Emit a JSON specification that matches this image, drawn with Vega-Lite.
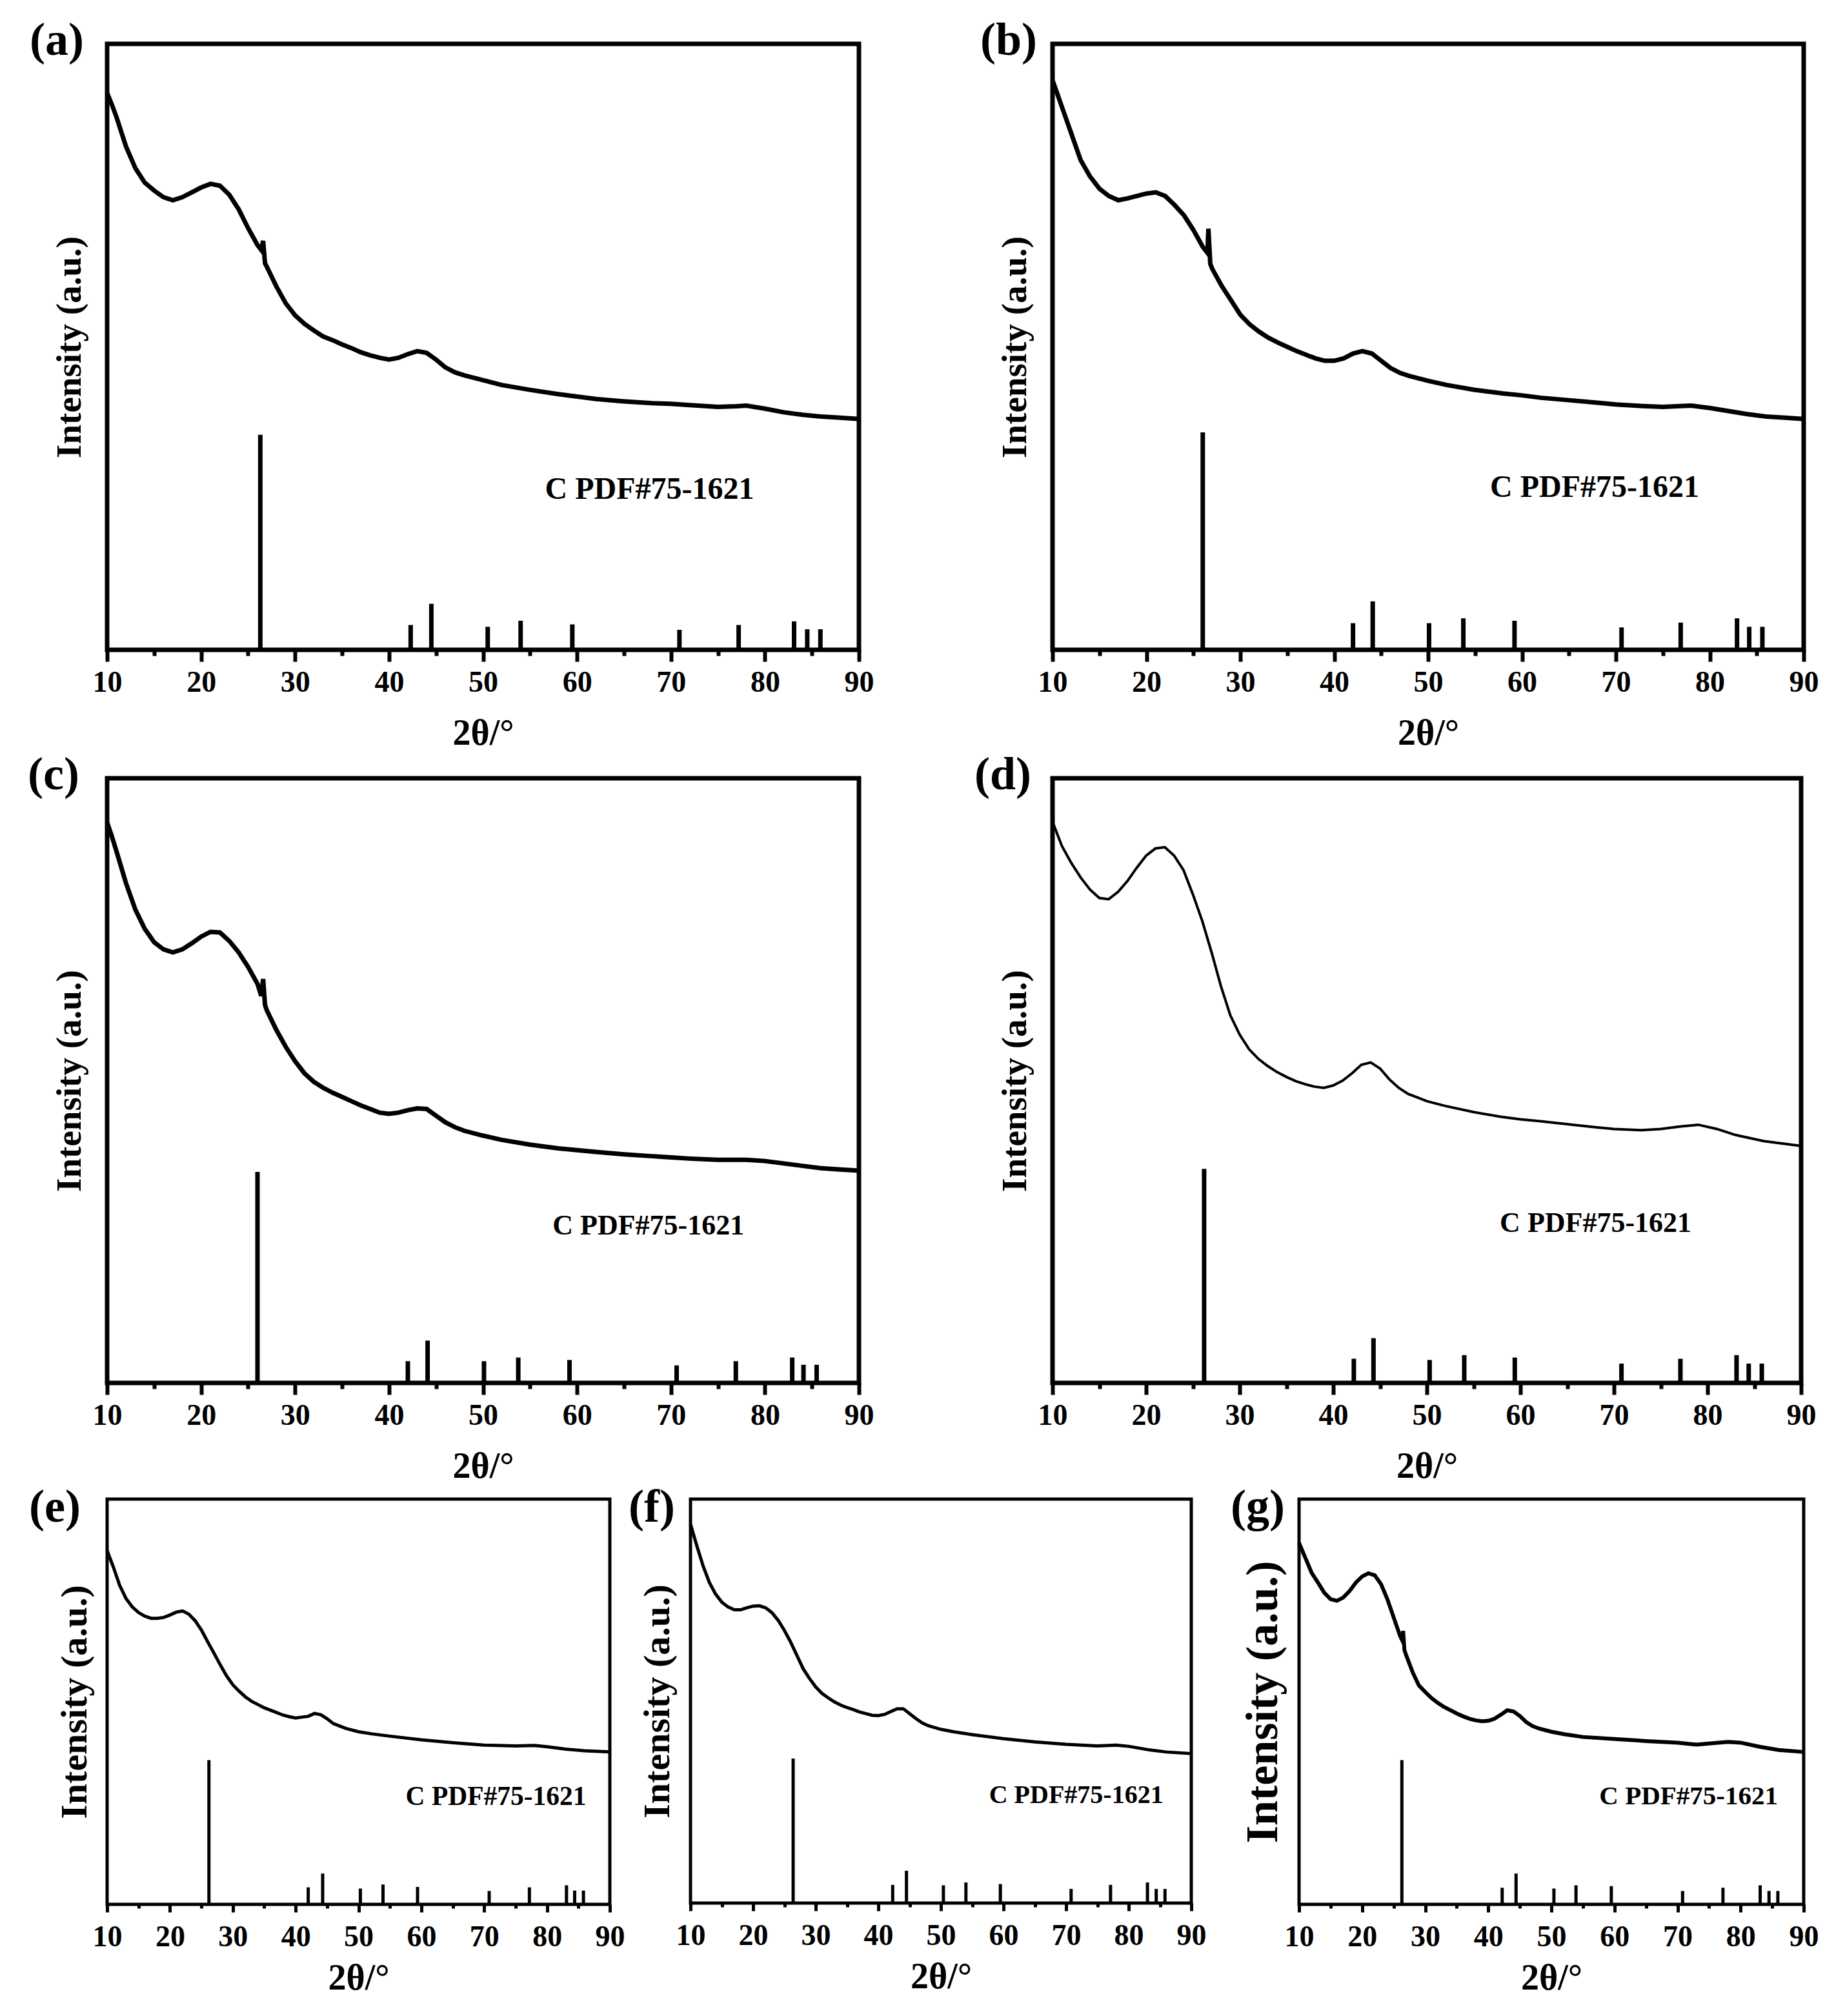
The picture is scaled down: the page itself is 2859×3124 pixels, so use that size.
{
  "$schema": "https://vega.github.io/schema/vega-lite/v6.json",
  "background": "white",
  "padding": {"left": 39, "top": 23, "right": 5, "bottom": 5},
  "config": {
    "font": "Liberation Serif",
    "view": {"stroke": "black", "strokeWidth": 7},
    "axis": {"grid": false, "domain": false, "labelFont": "Liberation Serif", "titleFont": "Liberation Serif", "labelFontWeight": "bold", "titleFontWeight": "bold", "labelColor": "black", "titleColor": "black", "tickColor": "black"},
    "axisX": {"labelFontSize": 46, "titleFontSize": 56, "labelPadding": 10, "titlePadding": 29, "tickWidth": 6, "labelFlush": false},
    "axisY": {"labels": false, "ticks": false, "titleFontSize": 55, "titlePadding": 30},
    "title": {"anchor": "start", "frame": "bounds", "fontSize": 72, "fontWeight": "bold", "font": "Liberation Serif", "color": "black", "baseline": "middle", "offset": 0}
  },
  "datasets": {
    "xrd": [
      {"s":"a","t":10,"i":91.9},{"s":"a","t":10.5,"i":90.0},{"s":"a","t":11,"i":87.9},{"s":"a","t":12,"i":83.1},{"s":"a","t":13,"i":79.5},{"s":"a","t":14,"i":77.1},{"s":"a","t":15,"i":75.8},{"s":"a","t":16,"i":74.7},{"s":"a","t":17,"i":74.2},{"s":"a","t":18,"i":74.7},{"s":"a","t":19,"i":75.5},{"s":"a","t":20,"i":76.3},{"s":"a","t":21,"i":76.9},{"s":"a","t":22,"i":76.6},{"s":"a","t":23,"i":75.1},{"s":"a","t":24,"i":72.7},{"s":"a","t":25,"i":69.6},{"s":"a","t":26,"i":66.8},{"s":"a","t":26.4,"i":66.0},{"s":"a","t":26.6,"i":67.5},{"s":"a","t":26.8,"i":63.8},{"s":"a","t":27,"i":63.2},{"s":"a","t":28,"i":60.0},{"s":"a","t":29,"i":57.2},{"s":"a","t":30,"i":55.2},{"s":"a","t":31,"i":53.8},{"s":"a","t":32,"i":52.7},{"s":"a","t":33,"i":51.7},{"s":"a","t":34,"i":51.1},{"s":"a","t":35,"i":50.4},{"s":"a","t":36,"i":49.8},{"s":"a","t":37,"i":49.1},{"s":"a","t":38,"i":48.6},{"s":"a","t":39,"i":48.2},{"s":"a","t":40,"i":47.9},{"s":"a","t":41,"i":48.2},{"s":"a","t":42,"i":48.8},{"s":"a","t":43,"i":49.3},{"s":"a","t":44,"i":49.0},{"s":"a","t":45,"i":47.9},{"s":"a","t":46,"i":46.6},{"s":"a","t":47,"i":45.8},{"s":"a","t":48,"i":45.3},{"s":"a","t":50,"i":44.5},{"s":"a","t":52,"i":43.7},{"s":"a","t":55,"i":42.9},{"s":"a","t":58,"i":42.2},{"s":"a","t":60,"i":41.8},{"s":"a","t":62,"i":41.4},{"s":"a","t":65,"i":41.0},{"s":"a","t":68,"i":40.7},{"s":"a","t":70,"i":40.6},{"s":"a","t":72,"i":40.4},{"s":"a","t":75,"i":40.1},{"s":"a","t":77,"i":40.2},{"s":"a","t":78,"i":40.3},{"s":"a","t":80,"i":39.8},{"s":"a","t":82,"i":39.2},{"s":"a","t":84,"i":38.8},{"s":"a","t":86,"i":38.5},{"s":"a","t":88,"i":38.3},{"s":"a","t":90,"i":38.1},
      {"s":"b","t":10,"i":94.0},{"s":"b","t":10.5,"i":91.8},{"s":"b","t":11,"i":89.6},{"s":"b","t":12,"i":85.2},{"s":"b","t":13,"i":80.8},{"s":"b","t":14,"i":78.1},{"s":"b","t":15,"i":76.1},{"s":"b","t":16,"i":74.9},{"s":"b","t":17,"i":74.2},{"s":"b","t":18,"i":74.5},{"s":"b","t":19,"i":74.9},{"s":"b","t":20,"i":75.3},{"s":"b","t":21,"i":75.5},{"s":"b","t":22,"i":74.9},{"s":"b","t":23,"i":73.4},{"s":"b","t":24,"i":71.7},{"s":"b","t":25,"i":69.3},{"s":"b","t":26,"i":66.5},{"s":"b","t":26.5,"i":65.5},{"s":"b","t":26.6,"i":69.5},{"s":"b","t":26.8,"i":63.7},{"s":"b","t":27,"i":62.9},{"s":"b","t":28,"i":60.1},{"s":"b","t":29,"i":57.7},{"s":"b","t":30,"i":55.3},{"s":"b","t":31,"i":53.7},{"s":"b","t":32,"i":52.5},{"s":"b","t":33,"i":51.5},{"s":"b","t":34,"i":50.7},{"s":"b","t":35,"i":50.0},{"s":"b","t":36,"i":49.3},{"s":"b","t":37,"i":48.7},{"s":"b","t":38,"i":48.1},{"s":"b","t":39,"i":47.7},{"s":"b","t":40,"i":47.7},{"s":"b","t":41,"i":48.1},{"s":"b","t":42,"i":48.9},{"s":"b","t":43,"i":49.3},{"s":"b","t":44,"i":48.9},{"s":"b","t":45,"i":47.7},{"s":"b","t":46,"i":46.5},{"s":"b","t":47,"i":45.7},{"s":"b","t":48,"i":45.2},{"s":"b","t":50,"i":44.4},{"s":"b","t":52,"i":43.7},{"s":"b","t":55,"i":42.9},{"s":"b","t":58,"i":42.3},{"s":"b","t":60,"i":42.0},{"s":"b","t":62,"i":41.6},{"s":"b","t":65,"i":41.2},{"s":"b","t":68,"i":40.8},{"s":"b","t":70,"i":40.5},{"s":"b","t":72,"i":40.3},{"s":"b","t":75,"i":40.1},{"s":"b","t":78,"i":40.3},{"s":"b","t":80,"i":39.9},{"s":"b","t":82,"i":39.4},{"s":"b","t":84,"i":38.9},{"s":"b","t":86,"i":38.5},{"s":"b","t":88,"i":38.3},{"s":"b","t":90,"i":38.1},
      {"s":"c","t":10,"i":92.7},{"s":"c","t":10.5,"i":90.4},{"s":"c","t":11,"i":87.9},{"s":"c","t":12,"i":82.7},{"s":"c","t":13,"i":78.3},{"s":"c","t":14,"i":75.1},{"s":"c","t":15,"i":72.9},{"s":"c","t":16,"i":71.7},{"s":"c","t":17,"i":71.2},{"s":"c","t":18,"i":71.7},{"s":"c","t":19,"i":72.7},{"s":"c","t":20,"i":73.8},{"s":"c","t":21,"i":74.6},{"s":"c","t":22,"i":74.5},{"s":"c","t":23,"i":73.1},{"s":"c","t":24,"i":71.2},{"s":"c","t":25,"i":68.8},{"s":"c","t":26,"i":66.0},{"s":"c","t":26.4,"i":64.0},{"s":"c","t":26.6,"i":66.8},{"s":"c","t":26.8,"i":62.5},{"s":"c","t":27,"i":61.6},{"s":"c","t":28,"i":58.4},{"s":"c","t":29,"i":55.6},{"s":"c","t":30,"i":53.2},{"s":"c","t":31,"i":51.2},{"s":"c","t":32,"i":49.8},{"s":"c","t":33,"i":48.8},{"s":"c","t":34,"i":48.0},{"s":"c","t":35,"i":47.3},{"s":"c","t":36,"i":46.6},{"s":"c","t":37,"i":45.9},{"s":"c","t":38,"i":45.3},{"s":"c","t":39,"i":44.7},{"s":"c","t":40,"i":44.5},{"s":"c","t":41,"i":44.7},{"s":"c","t":42,"i":45.1},{"s":"c","t":43,"i":45.4},{"s":"c","t":44,"i":45.3},{"s":"c","t":45,"i":44.2},{"s":"c","t":46,"i":43.1},{"s":"c","t":47,"i":42.3},{"s":"c","t":48,"i":41.7},{"s":"c","t":50,"i":40.9},{"s":"c","t":52,"i":40.2},{"s":"c","t":55,"i":39.4},{"s":"c","t":58,"i":38.8},{"s":"c","t":60,"i":38.5},{"s":"c","t":62,"i":38.2},{"s":"c","t":65,"i":37.8},{"s":"c","t":68,"i":37.5},{"s":"c","t":70,"i":37.3},{"s":"c","t":72,"i":37.1},{"s":"c","t":75,"i":36.9},{"s":"c","t":78,"i":36.9},{"s":"c","t":80,"i":36.7},{"s":"c","t":82,"i":36.3},{"s":"c","t":84,"i":35.9},{"s":"c","t":86,"i":35.5},{"s":"c","t":88,"i":35.3},{"s":"c","t":90,"i":35.1},
      {"s":"d","t":10,"i":92.8},{"s":"d","t":11,"i":88.8},{"s":"d","t":12,"i":86.0},{"s":"d","t":13,"i":83.6},{"s":"d","t":14,"i":81.6},{"s":"d","t":15,"i":80.2},{"s":"d","t":16,"i":80.0},{"s":"d","t":17,"i":81.2},{"s":"d","t":18,"i":83.0},{"s":"d","t":19,"i":85.2},{"s":"d","t":20,"i":87.2},{"s":"d","t":21,"i":88.4},{"s":"d","t":22,"i":88.6},{"s":"d","t":23,"i":87.2},{"s":"d","t":24,"i":84.8},{"s":"d","t":25,"i":80.8},{"s":"d","t":26,"i":76.4},{"s":"d","t":27,"i":71.2},{"s":"d","t":28,"i":65.6},{"s":"d","t":29,"i":60.8},{"s":"d","t":30,"i":57.6},{"s":"d","t":31,"i":55.2},{"s":"d","t":32,"i":53.6},{"s":"d","t":33,"i":52.4},{"s":"d","t":34,"i":51.4},{"s":"d","t":35,"i":50.6},{"s":"d","t":36,"i":49.9},{"s":"d","t":37,"i":49.4},{"s":"d","t":38,"i":49.0},{"s":"d","t":39,"i":48.8},{"s":"d","t":40,"i":49.2},{"s":"d","t":41,"i":50.0},{"s":"d","t":42,"i":51.2},{"s":"d","t":43,"i":52.6},{"s":"d","t":44,"i":53.0},{"s":"d","t":45,"i":52.0},{"s":"d","t":46,"i":50.2},{"s":"d","t":47,"i":48.8},{"s":"d","t":48,"i":47.8},{"s":"d","t":49,"i":47.2},{"s":"d","t":50,"i":46.6},{"s":"d","t":52,"i":45.8},{"s":"d","t":55,"i":44.8},{"s":"d","t":58,"i":44.0},{"s":"d","t":60,"i":43.6},{"s":"d","t":62,"i":43.3},{"s":"d","t":65,"i":42.8},{"s":"d","t":68,"i":42.3},{"s":"d","t":70,"i":42.0},{"s":"d","t":73,"i":41.8},{"s":"d","t":75,"i":42.0},{"s":"d","t":77,"i":42.4},{"s":"d","t":79,"i":42.7},{"s":"d","t":81,"i":42.0},{"s":"d","t":83,"i":41.0},{"s":"d","t":86,"i":40.0},{"s":"d","t":88,"i":39.6},{"s":"d","t":90,"i":39.2},
      {"s":"e","t":10,"i":87.3},{"s":"e","t":11,"i":83.2},{"s":"e","t":12,"i":78.7},{"s":"e","t":13,"i":75.5},{"s":"e","t":14,"i":73.4},{"s":"e","t":15,"i":72.0},{"s":"e","t":16,"i":71.1},{"s":"e","t":17,"i":70.6},{"s":"e","t":18,"i":70.6},{"s":"e","t":19,"i":70.8},{"s":"e","t":20,"i":71.4},{"s":"e","t":21,"i":72.1},{"s":"e","t":22,"i":72.4},{"s":"e","t":23,"i":71.6},{"s":"e","t":24,"i":70.0},{"s":"e","t":25,"i":67.7},{"s":"e","t":26,"i":64.8},{"s":"e","t":27,"i":62.0},{"s":"e","t":28,"i":59.1},{"s":"e","t":29,"i":56.4},{"s":"e","t":30,"i":54.2},{"s":"e","t":31,"i":52.6},{"s":"e","t":32,"i":51.2},{"s":"e","t":33,"i":50.1},{"s":"e","t":34,"i":49.3},{"s":"e","t":35,"i":48.5},{"s":"e","t":36,"i":47.9},{"s":"e","t":37,"i":47.3},{"s":"e","t":38,"i":46.7},{"s":"e","t":39,"i":46.3},{"s":"e","t":40,"i":46.0},{"s":"e","t":41,"i":46.2},{"s":"e","t":42,"i":46.4},{"s":"e","t":43,"i":47.1},{"s":"e","t":44,"i":46.8},{"s":"e","t":45,"i":45.8},{"s":"e","t":46,"i":44.6},{"s":"e","t":47,"i":44.0},{"s":"e","t":48,"i":43.4},{"s":"e","t":50,"i":42.6},{"s":"e","t":52,"i":42.1},{"s":"e","t":55,"i":41.5},{"s":"e","t":60,"i":40.6},{"s":"e","t":65,"i":39.9},{"s":"e","t":70,"i":39.3},{"s":"e","t":75,"i":39.1},{"s":"e","t":78,"i":39.2},{"s":"e","t":80,"i":38.9},{"s":"e","t":83,"i":38.3},{"s":"e","t":86,"i":37.9},{"s":"e","t":90,"i":37.6},
      {"s":"f","t":10,"i":93.8},{"s":"f","t":11,"i":88.5},{"s":"f","t":12,"i":83.5},{"s":"f","t":13,"i":79.4},{"s":"f","t":14,"i":76.5},{"s":"f","t":15,"i":74.5},{"s":"f","t":16,"i":73.3},{"s":"f","t":17,"i":72.6},{"s":"f","t":18,"i":72.6},{"s":"f","t":19,"i":73.1},{"s":"f","t":20,"i":73.5},{"s":"f","t":21,"i":73.6},{"s":"f","t":22,"i":73.1},{"s":"f","t":23,"i":71.9},{"s":"f","t":24,"i":70.0},{"s":"f","t":25,"i":67.5},{"s":"f","t":26,"i":64.6},{"s":"f","t":27,"i":61.3},{"s":"f","t":28,"i":58.0},{"s":"f","t":29,"i":55.6},{"s":"f","t":30,"i":53.5},{"s":"f","t":31,"i":51.9},{"s":"f","t":32,"i":50.8},{"s":"f","t":33,"i":49.8},{"s":"f","t":34,"i":49.0},{"s":"f","t":35,"i":48.4},{"s":"f","t":36,"i":47.9},{"s":"f","t":37,"i":47.3},{"s":"f","t":38,"i":46.9},{"s":"f","t":39,"i":46.5},{"s":"f","t":40,"i":46.4},{"s":"f","t":41,"i":46.7},{"s":"f","t":42,"i":47.4},{"s":"f","t":43,"i":48.1},{"s":"f","t":44,"i":48.1},{"s":"f","t":45,"i":46.9},{"s":"f","t":46,"i":45.7},{"s":"f","t":47,"i":44.6},{"s":"f","t":48,"i":43.9},{"s":"f","t":50,"i":43.0},{"s":"f","t":52,"i":42.4},{"s":"f","t":55,"i":41.7},{"s":"f","t":60,"i":40.7},{"s":"f","t":65,"i":39.9},{"s":"f","t":70,"i":39.3},{"s":"f","t":75,"i":38.9},{"s":"f","t":78,"i":39.1},{"s":"f","t":80,"i":38.8},{"s":"f","t":83,"i":38.0},{"s":"f","t":86,"i":37.4},{"s":"f","t":90,"i":37.0},
      {"s":"g","t":10,"i":89.2},{"s":"g","t":11,"i":85.5},{"s":"g","t":12,"i":81.8},{"s":"g","t":13,"i":79.4},{"s":"g","t":14,"i":76.9},{"s":"g","t":15,"i":75.3},{"s":"g","t":16,"i":74.9},{"s":"g","t":17,"i":75.7},{"s":"g","t":18,"i":77.3},{"s":"g","t":19,"i":79.4},{"s":"g","t":20,"i":80.9},{"s":"g","t":21,"i":81.7},{"s":"g","t":22,"i":81.2},{"s":"g","t":23,"i":79.0},{"s":"g","t":24,"i":75.3},{"s":"g","t":25,"i":70.8},{"s":"g","t":26,"i":66.3},{"s":"g","t":26.4,"i":65.0},{"s":"g","t":26.5,"i":67.5},{"s":"g","t":26.7,"i":62.8},{"s":"g","t":27,"i":61.4},{"s":"g","t":28,"i":57.3},{"s":"g","t":29,"i":54.0},{"s":"g","t":30,"i":52.4},{"s":"g","t":31,"i":50.9},{"s":"g","t":32,"i":49.7},{"s":"g","t":33,"i":48.7},{"s":"g","t":34,"i":47.9},{"s":"g","t":35,"i":47.1},{"s":"g","t":36,"i":46.4},{"s":"g","t":37,"i":45.8},{"s":"g","t":38,"i":45.4},{"s":"g","t":39,"i":45.2},{"s":"g","t":40,"i":45.3},{"s":"g","t":41,"i":45.8},{"s":"g","t":42,"i":46.8},{"s":"g","t":43,"i":47.9},{"s":"g","t":44,"i":47.6},{"s":"g","t":45,"i":46.5},{"s":"g","t":46,"i":45.0},{"s":"g","t":47,"i":44.0},{"s":"g","t":48,"i":43.4},{"s":"g","t":50,"i":42.6},{"s":"g","t":52,"i":42.0},{"s":"g","t":55,"i":41.3},{"s":"g","t":60,"i":40.8},{"s":"g","t":65,"i":40.3},{"s":"g","t":70,"i":39.9},{"s":"g","t":73,"i":39.4},{"s":"g","t":75,"i":39.7},{"s":"g","t":78,"i":40.1},{"s":"g","t":80,"i":39.9},{"s":"g","t":83,"i":38.9},{"s":"g","t":86,"i":38.1},{"s":"g","t":90,"i":37.6}
    ],
    "pdf": [
      {"s":"a","t":26.3,"h":35.5},{"s":"a","t":42.3,"h":4.1},{"s":"a","t":44.5,"h":7.6},{"s":"a","t":50.5,"h":3.8},{"s":"a","t":54.0,"h":4.8},{"s":"a","t":59.5,"h":4.2},{"s":"a","t":70.9,"h":3.3},{"s":"a","t":77.2,"h":4.1},{"s":"a","t":83.1,"h":4.7},{"s":"a","t":84.5,"h":3.4},{"s":"a","t":85.9,"h":3.4},
      {"s":"b","t":26.0,"h":35.9},{"s":"b","t":42.0,"h":4.4},{"s":"b","t":44.1,"h":8.0},{"s":"b","t":50.1,"h":4.4},{"s":"b","t":53.75,"h":5.2},{"s":"b","t":59.2,"h":4.8},{"s":"b","t":70.6,"h":3.7},{"s":"b","t":76.9,"h":4.5},{"s":"b","t":82.9,"h":5.2},{"s":"b","t":84.2,"h":3.8},{"s":"b","t":85.6,"h":3.8},
      {"s":"c","t":26.0,"h":34.9},{"s":"c","t":42.0,"h":3.6},{"s":"c","t":44.1,"h":7.0},{"s":"c","t":50.1,"h":3.6},{"s":"c","t":53.75,"h":4.2},{"s":"c","t":59.2,"h":3.8},{"s":"c","t":70.6,"h":2.9},{"s":"c","t":76.9,"h":3.6},{"s":"c","t":82.9,"h":4.2},{"s":"c","t":84.1,"h":3.0},{"s":"c","t":85.5,"h":3.0},
      {"s":"d","t":26.2,"h":35.4},{"s":"d","t":42.2,"h":4.0},{"s":"d","t":44.3,"h":7.4},{"s":"d","t":50.3,"h":3.8},{"s":"d","t":54.0,"h":4.6},{"s":"d","t":59.4,"h":4.2},{"s":"d","t":70.8,"h":3.2},{"s":"d","t":77.1,"h":4.0},{"s":"d","t":83.1,"h":4.6},{"s":"d","t":84.4,"h":3.2},{"s":"d","t":85.8,"h":3.2},
      {"s":"e","t":26.2,"h":35.6},{"s":"e","t":42.0,"h":4.2},{"s":"e","t":44.3,"h":7.6},{"s":"e","t":50.3,"h":3.9},{"s":"e","t":53.9,"h":4.9},{"s":"e","t":59.4,"h":4.3},{"s":"e","t":70.8,"h":3.3},{"s":"e","t":77.2,"h":4.2},{"s":"e","t":83.1,"h":4.7},{"s":"e","t":84.4,"h":3.4},{"s":"e","t":85.8,"h":3.4},
      {"s":"f","t":26.4,"h":35.8},{"s":"f","t":42.3,"h":4.5},{"s":"f","t":44.5,"h":8.0},{"s":"f","t":50.4,"h":4.4},{"s":"f","t":54.0,"h":5.1},{"s":"f","t":59.5,"h":4.7},{"s":"f","t":70.8,"h":3.5},{"s":"f","t":77.1,"h":4.5},{"s":"f","t":83.0,"h":5.1},{"s":"f","t":84.4,"h":3.5},{"s":"f","t":85.8,"h":3.5},
      {"s":"g","t":26.3,"h":35.6},{"s":"g","t":42.2,"h":4.1},{"s":"g","t":44.4,"h":7.6},{"s":"g","t":50.4,"h":3.9},{"s":"g","t":53.9,"h":4.7},{"s":"g","t":59.5,"h":4.5},{"s":"g","t":70.8,"h":3.3},{"s":"g","t":77.2,"h":4.1},{"s":"g","t":83.1,"h":4.7},{"s":"g","t":84.5,"h":3.3},{"s":"g","t":85.9,"h":3.3}
    ]
  },
  "columns": 1,
  "align": "none",
  "spacing": {"row": -7, "column": 0},
  "concat": [
    {
      "spacing": 157,
      "hconcat": [
        {
          "title": {"text": "(a)", "dx": -34, "dy": 36},
          "width": 1165, "height": 939,
          "layer": [
            {"data": {"name": "xrd"}, "transform": [{"filter": "datum.s === 'a'"}],
             "mark": {"type": "line", "color": "black", "strokeWidth": 7},
             "encoding": {
               "x": {"field": "t", "type": "quantitative", "scale": {"domain": [10, 90], "nice": false, "zero": false},
                     "axis": {"title": "2θ/°", "values": [10,15,20,25,30,35,40,45,50,55,60,65,70,75,80,85,90], "labelExpr": "datum.value % 10 === 0 ? datum.label : ''", "tickSize": {"condition": {"test": "datum.value % 10 !== 0", "value": 9}, "value": 18}}},
               "y": {"field": "i", "type": "quantitative", "scale": {"domain": [0, 100], "nice": false}, "axis": {"title": "Intensity (a.u.)"}}
             }},
            {"data": {"name": "pdf"}, "transform": [{"filter": "datum.s === 'a'"}],
             "mark": {"type": "rule", "color": "black", "strokeWidth": 7},
             "encoding": {"x": {"field": "t", "type": "quantitative"}, "y": {"field": "h", "type": "quantitative"}, "y2": {"datum": 0}}},
            {"data": {"values": [{}]},
             "mark": {"type": "text", "align": "left", "baseline": "middle", "fontSize": 48, "fontWeight": "bold", "font": "Liberation Serif", "color": "black"},
             "encoding": {"x": {"datum": 56.6}, "y": {"datum": 26.4}, "text": {"value": "C PDF#75-1621"}}}
          ]
        },
        {
          "title": {"text": "(b)", "dx": -26, "dy": 36},
          "width": 1164, "height": 939,
          "layer": [
            {"data": {"name": "xrd"}, "transform": [{"filter": "datum.s === 'b'"}],
             "mark": {"type": "line", "color": "black", "strokeWidth": 7},
             "encoding": {
               "x": {"field": "t", "type": "quantitative", "scale": {"domain": [10, 90], "nice": false, "zero": false},
                     "axis": {"title": "2θ/°", "values": [10,15,20,25,30,35,40,45,50,55,60,65,70,75,80,85,90], "labelExpr": "datum.value % 10 === 0 ? datum.label : ''", "tickSize": {"condition": {"test": "datum.value % 10 !== 0", "value": 9}, "value": 18}}},
               "y": {"field": "i", "type": "quantitative", "scale": {"domain": [0, 100], "nice": false}, "axis": {"title": "Intensity (a.u.)"}}
             }},
            {"data": {"name": "pdf"}, "transform": [{"filter": "datum.s === 'b'"}],
             "mark": {"type": "rule", "color": "black", "strokeWidth": 7},
             "encoding": {"x": {"field": "t", "type": "quantitative"}, "y": {"field": "h", "type": "quantitative"}, "y2": {"datum": 0}}},
            {"data": {"values": [{}]},
             "mark": {"type": "text", "align": "left", "baseline": "middle", "fontSize": 48, "fontWeight": "bold", "font": "Liberation Serif", "color": "black"},
             "encoding": {"x": {"datum": 56.6}, "y": {"datum": 26.7}, "text": {"value": "C PDF#75-1621"}}}
          ]
        }
      ]
    },
    {
      "spacing": 148,
      "hconcat": [
        {
          "title": {"text": "(c)", "dx": -37, "dy": 36},
          "width": 1165, "height": 937,
          "layer": [
            {"data": {"name": "xrd"}, "transform": [{"filter": "datum.s === 'c'"}],
             "mark": {"type": "line", "color": "black", "strokeWidth": 7},
             "encoding": {
               "x": {"field": "t", "type": "quantitative", "scale": {"domain": [10, 90], "nice": false, "zero": false},
                     "axis": {"title": "2θ/°", "values": [10,15,20,25,30,35,40,45,50,55,60,65,70,75,80,85,90], "labelExpr": "datum.value % 10 === 0 ? datum.label : ''", "tickSize": {"condition": {"test": "datum.value % 10 !== 0", "value": 9}, "value": 18}}},
               "y": {"field": "i", "type": "quantitative", "scale": {"domain": [0, 100], "nice": false}, "axis": {"title": "Intensity (a.u.)"}}
             }},
            {"data": {"name": "pdf"}, "transform": [{"filter": "datum.s === 'c'"}],
             "mark": {"type": "rule", "color": "black", "strokeWidth": 7},
             "encoding": {"x": {"field": "t", "type": "quantitative"}, "y": {"field": "h", "type": "quantitative"}, "y2": {"datum": 0}}},
            {"data": {"values": [{}]},
             "mark": {"type": "text", "align": "left", "baseline": "middle", "fontSize": 44, "fontWeight": "bold", "font": "Liberation Serif", "color": "black"},
             "encoding": {"x": {"datum": 57.4}, "y": {"datum": 25.9}, "text": {"value": "C PDF#75-1621"}}}
          ]
        },
        {
          "title": {"text": "(d)", "dx": -35, "dy": 36},
          "width": 1160, "height": 937,
          "layer": [
            {"data": {"name": "xrd"}, "transform": [{"filter": "datum.s === 'd'"}],
             "mark": {"type": "line", "color": "black", "strokeWidth": 4},
             "encoding": {
               "x": {"field": "t", "type": "quantitative", "scale": {"domain": [10, 90], "nice": false, "zero": false},
                     "axis": {"title": "2θ/°", "values": [10,15,20,25,30,35,40,45,50,55,60,65,70,75,80,85,90], "labelExpr": "datum.value % 10 === 0 ? datum.label : ''", "tickSize": {"condition": {"test": "datum.value % 10 !== 0", "value": 9}, "value": 18}}},
               "y": {"field": "i", "type": "quantitative", "scale": {"domain": [0, 100], "nice": false}, "axis": {"title": "Intensity (a.u.)"}}
             }},
            {"data": {"name": "pdf"}, "transform": [{"filter": "datum.s === 'd'"}],
             "mark": {"type": "rule", "color": "black", "strokeWidth": 7},
             "encoding": {"x": {"field": "t", "type": "quantitative"}, "y": {"field": "h", "type": "quantitative"}, "y2": {"datum": 0}}},
            {"data": {"values": [{}]},
             "mark": {"type": "text", "align": "left", "baseline": "middle", "fontSize": 44, "fontWeight": "bold", "font": "Liberation Serif", "color": "black"},
             "encoding": {"x": {"datum": 57.8}, "y": {"datum": 26.4}, "text": {"value": "C PDF#75-1621"}}}
          ]
        }
      ]
    },
    {
      "spacing": 0,
      "hconcat": [
        {
          "title": {"text": "(e)", "dx": -42, "dy": 54},
          "width": 779, "height": 628,
          "view": {"strokeWidth": 5},
          "layer": [
            {"data": {"name": "xrd"}, "transform": [{"filter": "datum.s === 'e'"}],
             "mark": {"type": "line", "color": "black", "strokeWidth": 5},
             "encoding": {
               "x": {"field": "t", "type": "quantitative", "scale": {"domain": [10, 90], "nice": false, "zero": false},
                     "axis": {"title": "2θ/°", "labelPadding": 16, "titlePadding": 14, "tickWidth": 5, "values": [10,15,20,25,30,35,40,45,50,55,60,65,70,75,80,85,90], "labelExpr": "datum.value % 10 === 0 ? datum.label : ''", "tickSize": {"condition": {"test": "datum.value % 10 !== 0", "value": 6}, "value": 12}}},
               "y": {"field": "i", "type": "quantitative", "scale": {"domain": [0, 100], "nice": false}, "axis": {"title": "Intensity (a.u.)", "titleFontSize": 58, "titlePadding": 21}}
             }},
            {"data": {"name": "pdf"}, "transform": [{"filter": "datum.s === 'e'"}],
             "mark": {"type": "rule", "color": "black", "strokeWidth": 5},
             "encoding": {"x": {"field": "t", "type": "quantitative"}, "y": {"field": "h", "type": "quantitative"}, "y2": {"datum": 0}}},
            {"data": {"values": [{}]},
             "mark": {"type": "text", "align": "left", "baseline": "middle", "fontSize": 41.5, "fontWeight": "bold", "font": "Liberation Serif", "color": "black"},
             "encoding": {"x": {"datum": 57.5}, "y": {"datum": 26.4}, "text": {"value": "C PDF#75-1621"}}}
          ]
        },
        {
          "spacing": 32,
          "hconcat": [
            {
              "title": {"text": "(f)", "dx": -16, "dy": 54},
              "width": 776, "height": 626,
              "view": {"strokeWidth": 5},
              "layer": [
                {"data": {"name": "xrd"}, "transform": [{"filter": "datum.s === 'f'"}],
                 "mark": {"type": "line", "color": "black", "strokeWidth": 5},
                 "encoding": {
                   "x": {"field": "t", "type": "quantitative", "scale": {"domain": [10, 90], "nice": false, "zero": false},
                         "axis": {"title": "2θ/°", "labelPadding": 16, "titlePadding": 14, "tickWidth": 5, "values": [10,15,20,25,30,35,40,45,50,55,60,65,70,75,80,85,90], "labelExpr": "datum.value % 10 === 0 ? datum.label : ''", "tickSize": {"condition": {"test": "datum.value % 10 !== 0", "value": 6}, "value": 12}}},
                   "y": {"field": "i", "type": "quantitative", "scale": {"domain": [0, 100], "nice": false}, "axis": {"title": "Intensity (a.u.)", "titleFontSize": 58, "titlePadding": 22}}
                 }},
                {"data": {"name": "pdf"}, "transform": [{"filter": "datum.s === 'f'"}],
                 "mark": {"type": "rule", "color": "black", "strokeWidth": 5},
                 "encoding": {"x": {"field": "t", "type": "quantitative"}, "y": {"field": "h", "type": "quantitative"}, "y2": {"datum": 0}}},
                {"data": {"values": [{}]},
                 "mark": {"type": "text", "align": "left", "baseline": "middle", "fontSize": 40, "fontWeight": "bold", "font": "Liberation Serif", "color": "black"},
                 "encoding": {"x": {"datum": 57.7}, "y": {"datum": 26.7}, "text": {"value": "C PDF#75-1621"}}}
              ]
            },
            {
              "title": {"text": "(g)", "dx": -15, "dy": 54},
              "width": 782, "height": 628,
              "view": {"strokeWidth": 5},
              "layer": [
                {"data": {"name": "xrd"}, "transform": [{"filter": "datum.s === 'g'"}],
                 "mark": {"type": "line", "color": "black", "strokeWidth": 6},
                 "encoding": {
                   "x": {"field": "t", "type": "quantitative", "scale": {"domain": [10, 90], "nice": false, "zero": false},
                         "axis": {"title": "2θ/°", "labelPadding": 16, "titlePadding": 14, "tickWidth": 5, "values": [10,15,20,25,30,35,40,45,50,55,60,65,70,75,80,85,90], "labelExpr": "datum.value % 10 === 0 ? datum.label : ''", "tickSize": {"condition": {"test": "datum.value % 10 !== 0", "value": 6}, "value": 12}}},
                   "y": {"field": "i", "type": "quantitative", "scale": {"domain": [0, 100], "nice": false}, "axis": {"title": "Intensity (a.u.)", "titleFontSize": 70, "titlePadding": 20}}
                 }},
                {"data": {"name": "pdf"}, "transform": [{"filter": "datum.s === 'g'"}],
                 "mark": {"type": "rule", "color": "black", "strokeWidth": 5},
                 "encoding": {"x": {"field": "t", "type": "quantitative"}, "y": {"field": "h", "type": "quantitative"}, "y2": {"datum": 0}}},
                {"data": {"values": [{}]},
                 "mark": {"type": "text", "align": "left", "baseline": "middle", "fontSize": 41, "fontWeight": "bold", "font": "Liberation Serif", "color": "black"},
                 "encoding": {"x": {"datum": 57.6}, "y": {"datum": 26.6}, "text": {"value": "C PDF#75-1621"}}}
              ]
            }
          ]
        }
      ]
    }
  ]
}
